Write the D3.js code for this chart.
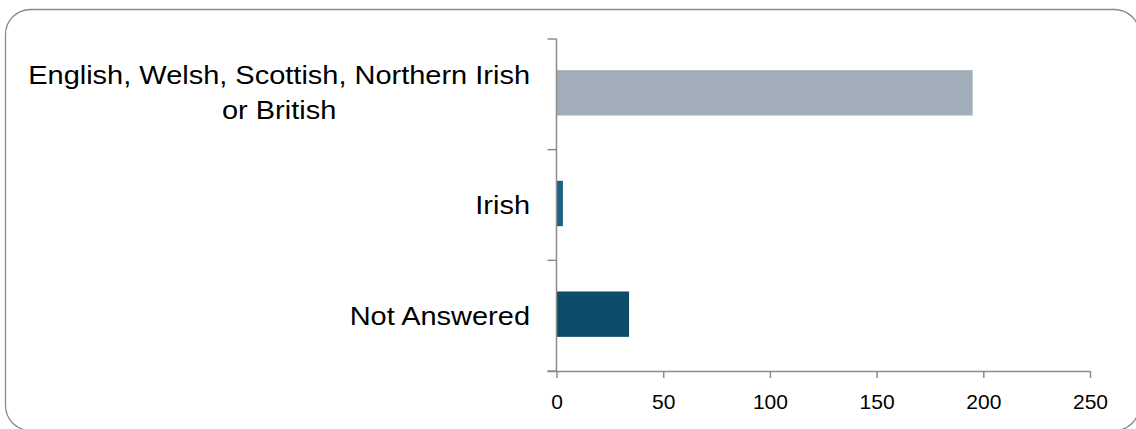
<!DOCTYPE html>
<html><head><meta charset="utf-8">
<script src="https://cdn.jsdelivr.net/npm/d3@7"></script>
<style>
html,body{margin:0;padding:0;background:#fff;}
svg{display:block;}
text{font-family:"Liberation Sans", Arial, sans-serif;}
</style></head>
<body>
<svg id="chart" width="1136" height="429"></svg>
<script>
const categories = ["English, Welsh, Scottish, Northern Irish or British", "Irish", "Not Answered"];
const labelLines = [["English, Welsh, Scottish, Northern Irish", "or British"], ["Irish"], ["Not Answered"]];
const values = [195, 3, 34];
const barColors = ["#a2afba", "#1a6186", "#0f4c69"];
const xTicks = [0, 50, 100, 150, 200, 250];

const svg = d3.select("#chart");
svg.append("rect").attr("x", 5.5).attr("y", 9.5).attr("width", 1134).attr("height", 421)
  .attr("rx", 25).attr("ry", 25).attr("fill", "#fff").attr("stroke", "#8a8a8a").attr("stroke-width", 1.3);

const x = d3.scaleLinear().domain([0, 250]).range([556.5, 1090]);
const y = d3.scaleBand().domain(categories).range([39, 371]).padding(0);

const axisColor = "#8c8c8c";

// bars
const barFrac = 0.41;
svg.selectAll("rect.bar").data(categories).join("rect").attr("class", "bar")
  .attr("x", x(0))
  .attr("y", d => y(d) + y.bandwidth() * (1 - barFrac) / 2 - 1.5)
  .attr("width", (d, i) => x(values[i]) - x(0))
  .attr("height", y.bandwidth() * barFrac)
  .attr("fill", (d, i) => barColors[i]);

// x axis
const xAxis = svg.append("g").attr("transform", `translate(0,${y.range()[1]})`)
  .call(d3.axisBottom(x).tickValues(xTicks).tickSize(7).tickSizeOuter(0).tickPadding(16.5));
xAxis.select(".domain").attr("d", `M${x(0) - 9},0.5H${x(250)}`);
xAxis.selectAll("path,line").attr("stroke", axisColor).attr("stroke-width", 1.5);
xAxis.selectAll("text").attr("font-size", 21).attr("fill", "#000")
  .style("font-family", '"Liberation Sans", Arial, sans-serif');

// y axis (line + ticks at band boundaries)
const yG = svg.append("g");
yG.append("line").attr("x1", x(0)).attr("x2", x(0)).attr("y1", y.range()[0]).attr("y2", y.range()[1])
  .attr("stroke", axisColor).attr("stroke-width", 1.5);
const bounds = categories.map(d => y(d)).concat([y.range()[1]]);
yG.selectAll("line.tick").data(bounds).join("line").attr("class", "tick")
  .attr("x1", x(0) - 9).attr("x2", x(0)).attr("y1", d => d).attr("y2", d => d)
  .attr("stroke", axisColor).attr("stroke-width", 1.5);

// category labels (slightly wide-set type, as in the reference)
const labelRight = 530;
const fs = 26;
const sx = 1.115;
categories.forEach((c, i) => {
  const lines = labelLines[i];
  const cy = y(c) + y.bandwidth() / 2;
  const g = svg.append("g").attr("transform", `translate(${labelRight},0) scale(${sx},1)`);
  if (lines.length === 1) {
    g.append("text").attr("x", 0).attr("y", cy + 9).attr("text-anchor", "end")
      .attr("font-size", fs).attr("fill", "#000").text(lines[0]);
  } else {
    const t = lines.map((l, k) => g.append("text").attr("y", cy - 10.3 + k * 34.6)
      .attr("font-size", fs).attr("fill", "#000").attr("text-anchor", "middle").text(l));
    const w = d3.max(t, n => n.node().getComputedTextLength());
    t.forEach(n => n.attr("x", -w / 2));
  }
});
</script>
</body></html>
